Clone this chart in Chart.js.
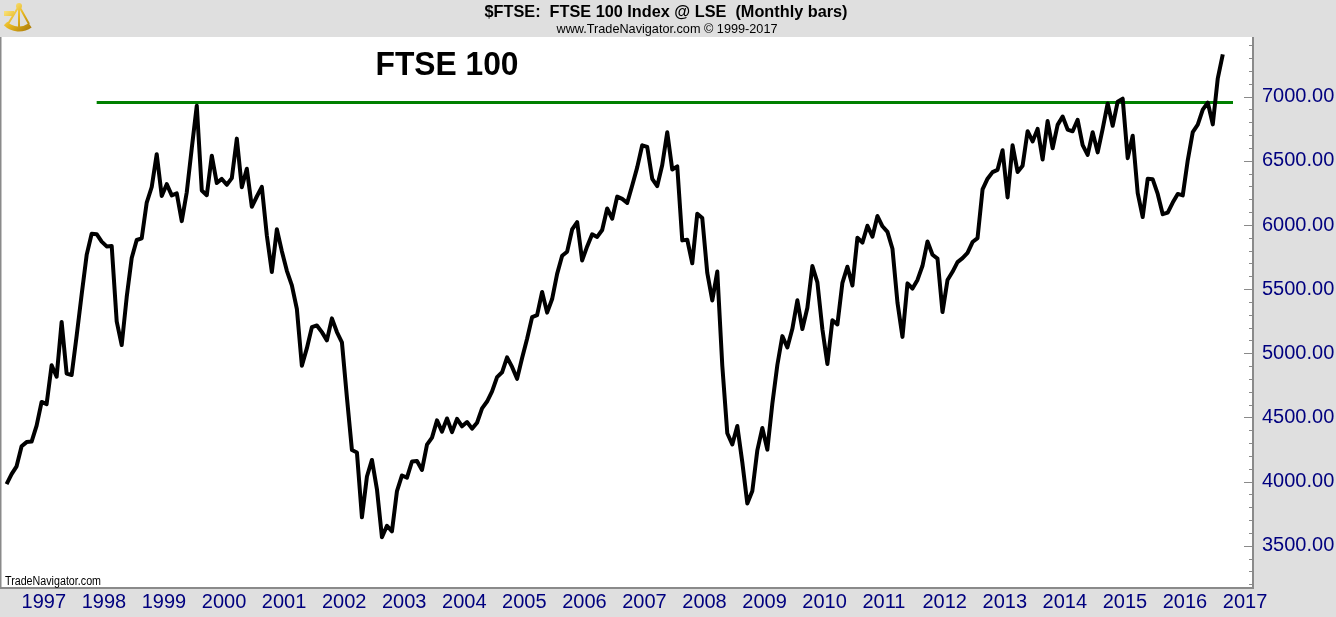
<!DOCTYPE html>
<html>
<head>
<meta charset="utf-8">
<title>FTSE 100 Index - Monthly</title>
<script src="https://cdn.jsdelivr.net/npm/chart.js@4.4.1/dist/chart.umd.min.js"></script>
<style>
  html, body { margin: 0; padding: 0; background: #dfdfdf; overflow: hidden; }
  #wrap { width: 1336px; height: 617px; }
</style>
</head>
<body>
<div id="wrap"><canvas id="ftse" width="1336" height="617"></canvas></div>
<script>
// monthly closes, first one is Oct 1996
var startYear = 1996;
var startMonth = 9;
var closes = [
  3980, 4058, 4119,
  4275, 4308, 4312, 4436, 4621, 4604, 4907, 4817, 5244, 4842, 4831, 5136,
  5458, 5767, 5932, 5928, 5870, 5833, 5837, 5249, 5064, 5438, 5743, 5883,
  5896, 6175, 6296, 6552, 6226, 6318, 6231, 6246, 6030, 6255, 6598, 6930,
  6269, 6232, 6540, 6327, 6359, 6313, 6365, 6673, 6294, 6438, 6142, 6222,
  6297, 5918, 5634, 5967, 5796, 5643, 5529, 5345, 4903, 5040, 5204, 5217,
  5165, 5101, 5272, 5166, 5086, 4656, 4246, 4227, 3722, 4040, 4169, 3940,
  3567, 3656, 3613, 3926, 4048, 4031, 4157, 4161, 4091, 4288, 4343, 4477,
  4390, 4492, 4386, 4489, 4431, 4464, 4413, 4459, 4571, 4624, 4703, 4814,
  4852, 4968, 4894, 4801, 4964, 5113, 5282, 5297, 5478, 5317, 5423, 5619,
  5760, 5792, 5965, 6023, 5724, 5833, 5928, 5907, 5961, 6129, 6049, 6221,
  6203, 6172, 6308, 6449, 6621, 6608, 6360, 6303, 6467, 6722, 6433, 6457,
  5880, 5885, 5702, 6087, 6054, 5626, 5412, 5637, 4903, 4377, 4289, 4434,
  4150, 3830, 3926, 4244, 4418, 4249, 4608, 4909, 5134, 5045, 5191, 5413,
  5189, 5355, 5680, 5553, 5188, 4917, 5258, 5225, 5549, 5675, 5528, 5900,
  5863, 5994, 5909, 6070, 5990, 5946, 5815, 5395, 5128, 5545, 5505, 5572,
  5682, 5872, 5768, 5738, 5321, 5571, 5635, 5711, 5742, 5783, 5867, 5898,
  6277, 6361, 6412, 6430, 6583, 6215, 6621, 6413, 6462, 6731, 6651, 6749,
  6510, 6810, 6598, 6780, 6845, 6744, 6730, 6820, 6623, 6546, 6723, 6566,
  6749, 6947, 6773, 6961, 6984, 6521, 6696, 6248, 6062, 6361, 6356, 6242,
  6084, 6097, 6175, 6242, 6231, 6504, 6724, 6782, 6899, 6954, 6784, 7143,
  7330
];

// green resistance line
var resistanceLevel = 6955;
var resistanceSpan = [1998.25, 2017.17];

// axis labels
var yearLabels = [1997, 1998, 1999, 2000, 2001, 2002, 2003, 2004, 2005, 2006,
  2007, 2008, 2009, 2010, 2011, 2012, 2013, 2014, 2015, 2016, 2017];
var priceLabels = [3500, 4000, 4500, 5000, 5500, 6000, 6500, 7000];

var navy = '#00007f';
var frameGray = '#8a8a8a';
var axisFont = { family: '"Liberation Sans", Arial, sans-serif', size: 20 };

function fitText(ctx, text, x, y, width, font, color, align) {
	ctx.save();
	ctx.font = font;
	ctx.fillStyle = color;
	ctx.textBaseline = 'middle';
	ctx.textAlign = align || 'center';
	var w = ctx.measureText(text).width;
	ctx.translate(x, y);
	ctx.scale(width / w, 1);
	ctx.fillText(text, 0, 0);
	ctx.restore();
}

function drawSextant(ctx) {
	ctx.save();
	var g = ctx.createLinearGradient(4, 4, 30, 32);
	g.addColorStop(0, '#fff2a0');
	g.addColorStop(0.5, '#e8b820');
	g.addColorStop(1, '#a87808');
	ctx.strokeStyle = g;
	ctx.fillStyle = g;
	//arc
	ctx.lineWidth = 5;
	ctx.beginPath();
	ctx.arc(19, 10, 19, Math.PI * 0.3, Math.PI * 0.75);
	ctx.stroke();
	//arms
	ctx.lineWidth = 2;
	ctx.beginPath();
	ctx.moveTo(19, 6); ctx.lineTo(8, 24);
	ctx.moveTo(19, 6); ctx.lineTo(29, 24);
	ctx.moveTo(19, 6); ctx.lineTo(19, 29);
	ctx.stroke();
	//telescope
	ctx.fillRect(4, 11, 10, 5);
	ctx.beginPath();
	ctx.arc(19, 6, 3, 0, Math.PI * 2);
	ctx.fill();
	ctx.restore();
}

var framePlugin = {
	id: 'frame',
	beforeDraw: function(chart) {
		var ctx = chart.ctx, a = chart.chartArea;
		ctx.save();
		ctx.fillStyle = '#dfdfdf';
		ctx.fillRect(0, 0, chart.width, chart.height);
		ctx.fillStyle = '#ffffff';
		ctx.fillRect(a.left, a.top, a.right - a.left, a.bottom - a.top);
		ctx.restore();
	},
	afterDraw: function(chart) {
		var ctx = chart.ctx, a = chart.chartArea, y = chart.scales.y;
		ctx.save();
		ctx.strokeStyle = frameGray;
		ctx.lineWidth = 2;
		ctx.beginPath();
		ctx.moveTo(a.left - 0.5, a.top);
		ctx.lineTo(a.left - 0.5, a.bottom);
		ctx.lineTo(a.right, a.bottom);
		ctx.lineTo(a.right, a.top);
		ctx.stroke();
		//inner ticks on the price axis, every 100
		ctx.lineWidth = 1;
		for (var v = 3200; v <= 7400; v += 100) {
			var py = Math.round(y.getPixelForValue(v)) + 0.5;
			var len = (v % 500 === 0) ? 9 : 4;
			ctx.beginPath();
			ctx.moveTo(a.right - len, py);
			ctx.lineTo(a.right, py);
			ctx.stroke();
		}
		ctx.restore();

		fitText(ctx, '$FTSE:  FTSE 100 Index @ LSE  (Monthly bars)', 666, 12, 363,
			'bold 17px "Liberation Sans", Arial, sans-serif', '#000');
		fitText(ctx, 'www.TradeNavigator.com \u00a9 1999-2017', 667, 29, 221,
			'13px "Liberation Sans", Arial, sans-serif', '#000');
		fitText(ctx, 'FTSE 100', 447, 66, 143,
			'bold 33px "Liberation Sans", Arial, sans-serif', '#000');
		fitText(ctx, 'TradeNavigator.com', 5, 582, 96,
			'12px "Liberation Sans", Arial, sans-serif', '#000', 'left');
		drawSextant(ctx);
	}
};

var points = closes.map(function(c, i) {
	return { x: startYear + (startMonth + i) / 12, y: c };
});

var canvas = document.getElementById('ftse').getContext('2d');
new Chart(canvas, {
	type: 'line',
	data: {
		datasets: [{
			label: 'FTSE 100',
			data: points,
			borderColor: '#000000',
			borderWidth: 4,
			pointRadius: 0,
			tension: 0,
			borderJoinStyle: 'round'
		}, {
			label: 'Resistance',
			data: [{ x: resistanceSpan[0], y: resistanceLevel }, { x: resistanceSpan[1], y: resistanceLevel }],
			borderColor: '#008000',
			borderWidth: 3,
			pointRadius: 0
		}]
	},
	options: {
		responsive: false,
		animation: false,
		devicePixelRatio: 1,
		layout: { padding: { left: 1, top: 37, right: 0, bottom: 0 } },
		plugins: {
			legend: { display: false },
			tooltip: { enabled: false }
		},
		scales: {
			x: {
				type: 'linear',
				min: 1996.657,
				max: 2017.503,
				grid: { display: false, drawTicks: false },
				border: { display: false },
				afterFit: function(s) { s.height = 29; },
				afterBuildTicks: function(s) {
					s.ticks = yearLabels.map(function(v) { return { value: v }; });
				},
				ticks: {
					autoSkip: false,
					maxRotation: 0,
					align: 'start',
					padding: 2,
					color: navy,
					font: axisFont,
					callback: function(v) { return String(v); }
				}
			},
			y: {
				position: 'right',
				min: 3171,
				max: 7465,
				grid: { display: false, drawTicks: false },
				border: { display: false },
				afterFit: function(s) { s.width = 83; },
				afterBuildTicks: function(s) {
					s.ticks = priceLabels.map(function(v) { return { value: v }; });
				},
				ticks: {
					autoSkip: false,
					padding: 9,
					color: navy,
					font: axisFont,
					callback: function(v) { return Number(v).toFixed(2); }
				}
			}
		}
	},
	plugins: [framePlugin]
});
</script>
</body>
</html>
